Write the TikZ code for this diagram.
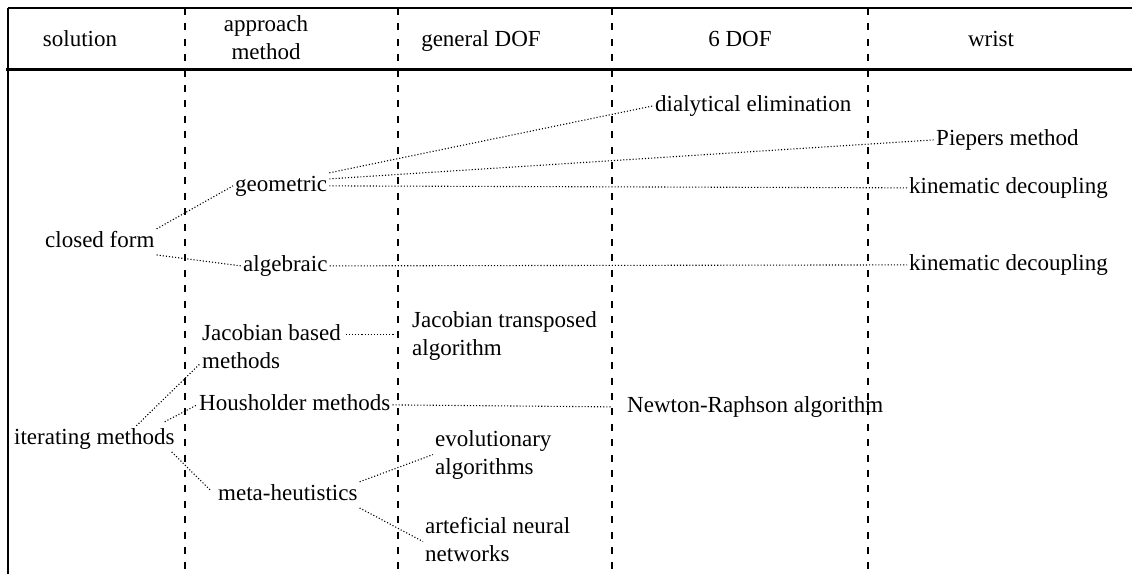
\documentclass[tikz,border=0pt]{standalone}
\usepackage{fontspec}
\setmainfont{Liberation Serif}
\usetikzlibrary{calc}
\begin{document}
\begin{tikzpicture}[x=1pt,y=-1pt,
  lbl/.style={anchor=base west,inner sep=2pt,text height=16pt,text depth=5.75pt,
              font=\fontsize{23}{28.5}\selectfont},
  lbltwo/.style={anchor=base west,inner sep=2pt,font=\fontsize{23}{28.5}\selectfont},
  head/.style={anchor=base,inner sep=2pt,font=\fontsize{23}{28}\selectfont},
  conn/.style={line width=1.1pt,dash pattern=on 1.1pt off 2pt},
  colsep/.style={line width=2pt,dash pattern=on 7pt off 8.4pt},
  rule/.style={line width=1.3pt}]
\useasboundingbox (0,0) rectangle (1132,574);

% table frame and column separators
\draw[rule] (8,8) -- (1132,8);
\draw[line width=1.5pt] (8,8) -- (8,574);
\draw[line width=2.4pt] (6,69.5) -- (1132,69.5);
\foreach \x in {185,398,612,868}
  \draw[colsep] (\x,8) -- (\x,574);

% column headings
\node[head] (hSol) at (80,46) {solution};
\node[head] (hApp) at (266,31) {\begin{tabular}[t]{@{}c@{}}approach\\method\end{tabular}};
\node[head] (hGen) at (481,46) {general DOF};
\node[head] (hSix) at (740,46) {6 DOF};
\node[head] (hWr) at (991,46) {wrist};

% closed form branch
\node[lbl] (cf) at (43,247) {closed form};
\node[lbl] (geo) at (233,191) {geometric};
\node[lbl] (alg) at (241,271) {algebraic};
\node[lbl] (dia) at (653,111) {dialytical elimination};
\node[lbl] (pie) at (934,145) {Piepers method};
\node[lbl] (kdA) at (907,193) {kinematic decoupling};
\node[lbl] (kdB) at (907,270) {kinematic decoupling};

% iterating branch
\node[lbl] (it) at (12,444) {iterating methods};
\node[lbltwo] (jb) at (200,340) {\begin{tabular}[t]{@{}l@{}}Jacobian based\\methods\end{tabular}};
\node[lbltwo] (jt) at (410,327) {\begin{tabular}[t]{@{}l@{}}Jacobian transposed\\algorithm\end{tabular}};
\node[lbl] (hh) at (197,410) {Housholder methods};
\node[lbl] (nr) at (625,412) {Newton-Raphson algorithm};
\node[lbl] (meta) at (216,500) {meta-heutistics};
\node[lbltwo] (evo) at (433,446) {\begin{tabular}[t]{@{}l@{}}evolutionary\\algorithms\end{tabular}};
\node[lbltwo] (ann) at (423,533) {\begin{tabular}[t]{@{}l@{}}arteficial neural\\networks\end{tabular}};

% dotted connectors
\draw[conn] (cf.north east) -- (geo.west);
\draw[conn] (cf.south east) -- (alg.west);
\draw[conn] (geo.north east) -- (dia.west);
\draw[conn] ([yshift=7pt]geo.east) -- (pie.west);
\draw[conn] (geo.east) -- (kdA.west);
\draw[conn] (alg.east) -- (kdB.west);

\coordinate (jbR) at ([xshift=3pt,yshift=-17pt]jb.north east);
\draw[conn] (jbR) -- ($(jbR -| jt.west)+(-15,0)$);
\draw[conn] (hh.east) -- ($(nr.west)+(-13,0)$);
\draw[conn] ($(it.north)+(42,0)$) -- ($(jb.south west)+(0,-15.5)$);
\draw[conn] ($(it.north east)+(-12,-4)$) -- (hh.west);
\draw[conn] ($(it.south east)+(-5,0)$) -- ($(meta.west)+(-6,-5)$);
\draw[conn] (meta.north east) -- (evo.west);
\draw[conn] (meta.south east) -- (ann.west);
\end{tikzpicture}
\end{document}
